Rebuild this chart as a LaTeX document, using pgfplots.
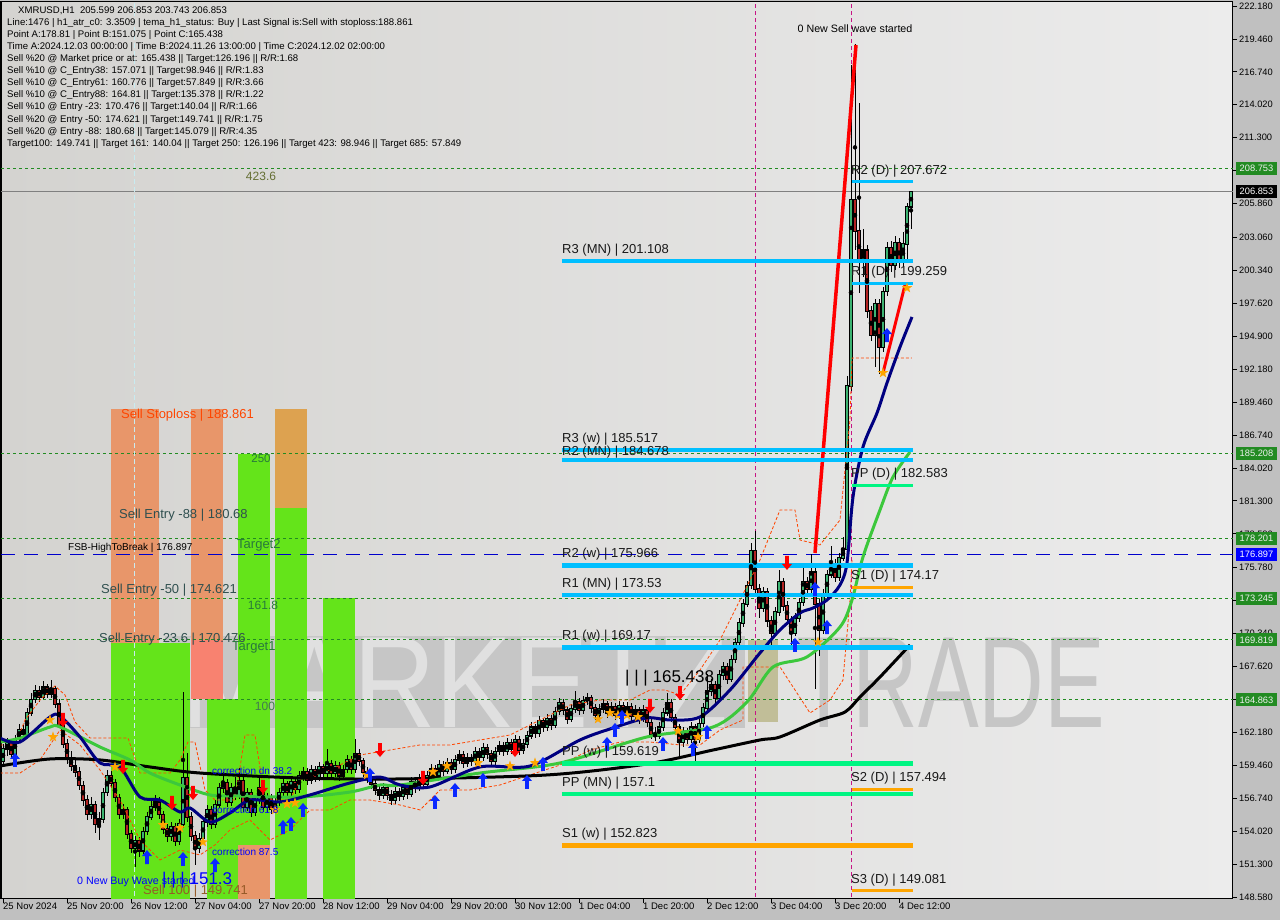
\documentclass[border=0pt]{standalone}
\usepackage{pgfplots}
\pgfplotsset{compat=1.18}
\usepackage{pgfplotstable}
\usepackage{fontspec}
\setmainfont{Liberation Sans}
\newcommand{\fs}[1]{\fontsize{#1}{#1}\selectfont}
\definecolor{outerbg}{RGB}{192,192,192}
\definecolor{bgl}{RGB}{212,211,208}
\definecolor{bgr}{RGB}{236,236,236}
\definecolor{bull}{RGB}{60,179,113}
\definecolor{bear}{RGB}{178,34,34}
\definecolor{manavy}{RGB}{0,0,128}
\definecolor{magreen}{RGB}{60,200,60}
\definecolor{pcyan}{RGB}{0,191,255}
\definecolor{pgreen}{RGB}{0,245,130}
\definecolor{porange}{RGB}{255,165,0}
\definecolor{lvl}{RGB}{34,139,34}
\definecolor{salmonz}{RGB}{232,150,106}
\definecolor{pinkz}{RGB}{248,130,112}
\definecolor{greenz}{RGB}{100,228,26}
\definecolor{orangez}{RGB}{221,162,80}
\definecolor{khakiz}{RGB}{188,184,140}
\definecolor{band}{RGB}{198,198,198}
\definecolor{wmlight}{RGB}{224,224,224}
\definecolor{wmdark}{RGB}{198,198,198}
\definecolor{envc}{RGB}{255,69,0}
\definecolor{magline}{RGB}{199,21,133}
\definecolor{txtgreen}{RGB}{40,120,60}
\definecolor{slate}{RGB}{47,79,79}
\definecolor{brownt}{RGB}{150,90,40}
\definecolor{olivet}{RGB}{100,110,50}
\definecolor{pivtxt}{RGB}{25,25,25}
\definecolor{arrblue}{RGB}{10,40,255}
\definecolor{lightvl}{RGB}{200,235,240}

\pgfdeclareplotmark{uparr}{%
  \pgfpathmoveto{\pgfqpoint{0pt}{7pt}}%
  \pgfpathlineto{\pgfqpoint{5pt}{1pt}}%
  \pgfpathlineto{\pgfqpoint{1.8pt}{1pt}}%
  \pgfpathlineto{\pgfqpoint{1.8pt}{-7pt}}%
  \pgfpathlineto{\pgfqpoint{-1.8pt}{-7pt}}%
  \pgfpathlineto{\pgfqpoint{-1.8pt}{1pt}}%
  \pgfpathlineto{\pgfqpoint{-5pt}{1pt}}%
  \pgfpathclose\pgfusepathqfill}
\pgfdeclareplotmark{dnarr}{%
  \pgfpathmoveto{\pgfqpoint{0pt}{-7pt}}%
  \pgfpathlineto{\pgfqpoint{5pt}{-1pt}}%
  \pgfpathlineto{\pgfqpoint{1.8pt}{-1pt}}%
  \pgfpathlineto{\pgfqpoint{1.8pt}{7pt}}%
  \pgfpathlineto{\pgfqpoint{-1.8pt}{7pt}}%
  \pgfpathlineto{\pgfqpoint{-1.8pt}{-1pt}}%
  \pgfpathlineto{\pgfqpoint{-5pt}{-1pt}}%
  \pgfpathclose\pgfusepathqfill}
\pgfdeclareplotmark{fstar}{%
  \pgfpathmoveto{\pgfqpoint{0pt}{5.5pt}}%
  \pgfpathlineto{\pgfqpoint{-1.29pt}{1.78pt}}%
  \pgfpathlineto{\pgfqpoint{-5.23pt}{1.70pt}}%
  \pgfpathlineto{\pgfqpoint{-2.09pt}{-0.68pt}}%
  \pgfpathlineto{\pgfqpoint{-3.23pt}{-4.45pt}}%
  \pgfpathlineto{\pgfqpoint{0pt}{-2.2pt}}%
  \pgfpathlineto{\pgfqpoint{3.23pt}{-4.45pt}}%
  \pgfpathlineto{\pgfqpoint{2.09pt}{-0.68pt}}%
  \pgfpathlineto{\pgfqpoint{5.23pt}{1.70pt}}%
  \pgfpathlineto{\pgfqpoint{1.29pt}{1.78pt}}%
  \pgfpathclose\pgfusepathqfill}

\pgfplotstableread{
x o h l c
0 159.8 161.2 159.3 160.8
1 160.8 161.7 160.2 161.3
2 161.3 161.6 160.0 160.4
3 160.4 162.0 160.1 161.6
4 161.6 162.9 161.3 162.4
5 162.4 162.8 161.6 162.0
6 162.0 164.2 161.8 163.8
7 163.8 165.4 163.5 164.9
8 164.9 166.1 164.6 165.6
9 165.6 166.0 164.7 165.1
10 165.1 166.4 164.9 165.9
11 165.9 166.2 165.0 165.3
12 165.3 166.5 165.0 165.8
13 165.8 166.0 164.2 164.5
14 164.5 164.9 162.5 162.8
15 162.8 163.5 160.9 161.2
16 161.2 161.6 159.6 160.0
17 160.0 160.6 159.0 159.4
18 159.4 160.0 158.5 158.9
19 158.9 159.3 157.4 157.8
20 157.8 158.2 156.1 156.6
21 156.6 157.0 154.9 155.4
22 155.4 156.8 155.0 156.2
23 156.2 156.5 153.9 154.6
24 154.6 155.6 153.3 155.0
25 155.0 157.6 154.7 157.2
26 157.2 159.1 156.9 158.6
27 158.6 159.0 157.6 158.0
28 158.0 158.3 156.4 156.8
29 156.8 157.1 155.0 155.4
30 155.4 156.3 155.0 155.8
31 155.8 156.0 153.4 153.8
32 153.8 154.1 152.2 152.6
33 152.6 153.6 151.075 153.2
34 153.2 153.5 151.9 152.4
35 152.4 154.4 152.1 154.0
36 154.0 155.6 153.7 155.2
37 155.2 156.5 154.9 156.0
38 156.0 157.0 155.7 156.4
39 156.4 156.8 155.0 155.4
40 155.4 155.7 153.8 154.2
41 154.2 154.6 153.1 153.6
42 153.6 154.8 153.2 154.4
43 154.4 154.7 152.8 153.2
44 153.2 155.0 152.9 154.6
45 154.6 165.5 154.3 158.4
46 158.4 160.5 154.8 155.2
47 155.2 155.6 153.2 153.6
48 153.6 154.0 151.2 152.6
49 152.6 153.9 152.2 153.4
50 153.4 155.2 153.1 154.8
51 154.8 156.2 154.4 155.8
52 155.8 156.1 154.2 154.6
53 154.6 156.6 154.3 156.2
54 156.2 158.0 155.9 157.6
55 157.6 158.9 157.2 158.0
56 158.0 158.3 156.0 156.4
57 156.4 158.0 156.1 157.6
58 157.6 158.5 156.6 157.0
59 157.0 159.2 156.7 158.2
60 158.2 158.6 155.6 156.0
61 156.0 157.6 155.7 157.2
62 157.2 157.5 155.2 155.6
63 155.6 157.0 155.3 156.6
64 156.6 158.4 156.3 157.6
65 157.6 157.9 155.6 156.0
66 156.0 157.2 155.6 156.8
67 156.8 157.1 155.4 155.8
68 155.8 156.8 155.5 156.4
69 156.4 157.6 156.1 157.2
70 157.2 158.3 156.9 157.9
71 157.9 158.2 156.8 157.2
72 157.2 158.5 156.9 158.1
73 158.1 158.4 157.1 157.5
74 157.5 159.0 157.2 158.6
75 158.6 159.3 158.2 158.9
76 158.9 159.2 157.8 158.2
77 158.2 159.5 157.9 159.1
78 159.1 159.4 158.1 158.5
79 158.5 159.7 158.2 159.3
80 159.3 159.6 158.4 158.8
81 158.8 160.8 158.5 159.6
82 159.6 159.9 158.4 158.8
83 158.8 159.8 158.5 159.4
84 159.4 159.7 158.2 158.6
85 158.6 159.5 158.3 159.1
86 159.1 160.3 158.8 159.9
87 159.9 160.2 158.7 159.1
88 159.1 161.6 158.8 160.4
89 160.4 160.8 159.4 159.8
90 159.8 160.1 158.5 158.9
91 158.9 159.3 158.0 158.4
92 158.4 158.8 157.5 157.9
93 157.9 158.3 157.0 157.4
94 157.4 157.8 156.6 157.0
95 157.0 158.0 156.7 157.6
96 157.6 157.9 156.6 157.0
97 157.0 157.4 156.2 156.6
98 156.6 157.7 156.3 157.3
99 157.3 157.6 156.5 156.9
100 156.9 158.0 156.6 157.6
101 157.6 157.9 156.7 157.1
102 157.1 158.5 156.8 158.1
103 158.1 158.4 157.2 157.6
104 157.6 158.7 157.3 158.3
105 158.3 158.6 157.5 157.9
106 157.9 159.0 157.6 158.6
107 158.6 159.6 158.3 159.2
108 159.2 159.5 158.2 158.6
109 158.6 159.9 158.3 159.5
110 159.5 159.8 158.6 159.0
111 159.0 160.1 158.7 159.7
112 159.7 160.0 158.7 159.1
113 159.1 160.3 158.8 159.9
114 159.9 160.7 159.6 160.3
115 160.3 160.6 159.2 159.6
116 159.6 160.5 159.3 160.1
117 160.1 160.4 159.4 159.8
118 159.8 161.0 159.5 160.6
119 160.6 160.9 159.7 160.1
120 160.1 161.3 159.8 160.9
121 160.9 161.2 160.0 160.4
122 160.4 160.7 159.4 159.8
123 159.8 161.0 159.5 160.6
124 160.6 161.5 160.3 161.1
125 161.1 161.4 160.2 160.6
126 160.6 161.7 160.3 161.3
127 161.3 161.6 160.4 160.8
128 160.8 162.0 160.5 161.6
129 161.6 161.9 160.3 160.7
130 160.7 161.6 160.4 161.2
131 161.2 162.3 160.9 161.9
132 161.9 163.0 161.6 162.6
133 162.6 162.9 161.7 162.1
134 162.1 163.5 161.8 163.1
135 163.1 163.4 162.2 162.6
136 162.6 163.7 162.3 163.3
137 163.3 163.6 162.4 162.8
138 162.8 164.3 162.5 163.9
139 163.9 165.0 163.6 164.6
140 164.6 164.9 163.6 164.0
141 164.0 164.3 162.9 163.3
142 163.3 164.5 163.0 164.1
143 164.1 165.6 163.8 164.7
144 164.7 165.0 163.6 164.0
145 164.0 165.2 163.7 164.8
146 164.8 165.4 164.4 165.0
147 165.0 165.3 163.8 164.2
148 164.2 164.5 163.2 163.6
149 163.6 164.5 163.3 164.1
150 164.1 164.9 163.8 164.5
151 164.5 164.8 163.4 163.8
152 163.8 164.7 163.5 164.3
153 164.3 164.6 163.2 163.6
154 163.6 164.8 163.3 164.4
155 164.4 164.7 163.4 163.8
156 163.8 164.7 163.5 164.3
157 164.3 164.6 163.1 163.5
158 163.5 164.4 163.2 164.0
159 164.0 164.3 162.9 163.3
160 163.3 164.4 163.0 164.0
161 164.0 164.3 162.6 163.0
162 163.0 163.3 161.6 162.0
163 162.0 162.6 161.5 161.9
164 161.9 163.0 161.6 162.6
165 162.6 164.2 162.3 163.8
166 163.8 165.438 163.5 164.6
167 164.6 164.9 163.0 163.4
168 163.4 163.7 162.2 162.6
169 162.6 162.9 160.0 161.4
170 161.4 162.6 161.0 162.2
171 162.2 162.5 161.2 161.6
172 161.6 163.0 161.3 162.6
173 162.6 162.9 159.8 161.6
174 161.6 163.3 161.3 162.9
175 162.9 164.6 162.6 164.2
176 164.2 167.0 163.9 165.6
177 165.6 166.6 165.2 166.1
178 166.1 166.4 164.6 165.0
179 165.0 167.3 164.7 166.9
180 166.9 168.0 166.5 167.6
181 167.6 167.9 166.2 166.6
182 166.6 168.6 166.3 168.2
183 168.2 170.0 167.9 169.6
184 169.6 171.6 169.3 171.2
185 171.2 173.2 170.9 172.8
186 172.8 174.7 172.5 174.3
187 174.3 177.8 174.0 177.2
188 177.2 178.81 173.6 174.0
189 174.0 174.4 171.6 172.4
190 172.4 174.2 172.1 173.8
191 173.8 174.1 170.9 171.4
192 171.4 171.8 169.4 170.4
193 170.4 172.5 170.1 172.1
194 172.1 175.6 171.8 174.6
195 174.6 174.9 172.2 172.6
196 172.6 173.0 171.1 171.5
197 171.5 171.8 169.0 170.4
198 170.4 172.0 170.1 171.6
199 171.6 173.3 171.3 172.9
200 172.9 176.2 172.6 174.6
201 174.6 175.0 173.6 174.0
202 174.0 176.9 173.7 175.4
203 175.4 175.8 165.8 172.8
204 172.8 173.2 168.5 170.6
205 170.6 174.0 170.3 173.6
206 173.6 175.6 173.3 175.2
207 175.2 177.6 174.9 176.1
208 176.1 176.5 174.6 175.0
209 175.0 177.0 174.7 176.6
210 176.6 178.3 176.3 177.3
211 177.3 191.6 176.9 190.8
212 190.8 217.3 190.4 206.2
213 206.2 219.0 202.0 203.6
214 203.6 214.2 198.5 201.0
215 201.0 203.8 199.8 202.0
216 202.0 202.4 196.4 197.0
217 197.0 197.4 194.5 195.0
218 195.0 198.0 192.4 197.6
219 197.6 198.0 191.8 194.0
220 194.0 199.0 193.6 198.6
221 198.6 202.7 198.2 202.2
222 202.2 202.8 200.2 200.8
223 200.8 203.2 200.4 202.6
224 202.6 203.0 200.5 201.0
225 201.0 203.5 200.6 202.5
226 202.5 205.9 201.2 205.599
227 205.599 206.853 203.743 206.853
}\candles

\begin{document}
\begin{tikzpicture}
\fill[outerbg] (0pt,0pt) rectangle (1280pt,920pt);
\begin{axis}[
  at={(1pt,21pt)}, anchor=south west,
  scale only axis, width=1232pt, height=897pt,
  xmin=-0.5, xmax=307.5, ymin=148.414, ymax=222.51,
  axis background/.style={left color=bgl, right color=bgr},
  axis line style={black, line width=1pt},
  ytick pos=right, xtick pos=bottom,
  tick align=outside, major tick length=4pt,
  tick style={black, line width=0.8pt},
  ytick={222.18,219.46,216.74,214.02,211.30,208.58,205.86,203.06,200.34,197.62,194.90,192.18,189.46,186.74,184.02,181.30,178.58,175.78,173.06,170.34,167.62,164.90,162.18,159.46,156.74,154.02,151.30,148.58},
  yticklabels={222.180,219.460,216.740,214.020,211.300,208.580,205.860,203.060,200.340,197.620,194.900,192.180,189.460,186.740,184.020,181.300,178.580,175.780,173.060,170.340,167.620,164.900,162.180,159.460,156.740,154.020,151.300,148.580},
  xtick={0,16,32,48,64,80,96,112,128,144,160,176,192,208,224},
  xticklabels={25 Nov 2024,25 Nov 20:00,26 Nov 12:00,27 Nov 04:00,27 Nov 20:00,28 Nov 12:00,29 Nov 04:00,29 Nov 20:00,30 Nov 12:00,1 Dec 04:00,1 Dec 20:00,2 Dec 12:00,3 Dec 04:00,3 Dec 20:00,4 Dec 12:00},
  yticklabel style={font=\fs{9.3}, anchor=west, inner sep=1pt, xshift=1pt},
  xticklabel style={font=\fs{9.5}, anchor=north west, inner sep=1pt, xshift=-1pt, yshift=1pt},
]
% watermark
\fill[band] (axis cs:40.5,162.54) rectangle (axis cs:185.5,170.14);
\node[font=\fs{130}, text=wmlight, xscale=0.88, inner sep=0] at (axis cs:113,166.3) {MARKETZ};
\node[font=\fs{130}, text=wmdark, xscale=0.7, inner sep=0] at (axis cs:237,166.3) {TRADE};
% zones
\addplot[fill=salmonz, draw=none] coordinates {(27,169.6) (39,169.6) (39,188.861) (27,188.861)} --cycle;
\addplot[fill=greenz, draw=none] coordinates {(27,148) (46.75,148) (46.75,169.6) (27,169.6)} --cycle;
\addplot[fill=salmonz, draw=none] coordinates {(47,169.819) (55,169.819) (55,188.861) (47,188.861)} --cycle;
\addplot[fill=pinkz, draw=none] coordinates {(47,164.9) (55,164.9) (55,169.819) (47,169.819)} --cycle;
\addplot[fill=greenz, draw=none] coordinates {(51,148) (58.75,148) (58.75,164.9) (51,164.9)} --cycle;
\addplot[fill=greenz, draw=none] coordinates {(58.75,152.9) (66.75,152.9) (66.75,185.208) (58.75,185.208)} --cycle;
\addplot[fill=salmonz, draw=none] coordinates {(58.75,148) (66.75,148) (66.75,152.9) (58.75,152.9)} --cycle;
\addplot[fill=orangez, draw=none] coordinates {(68,180.68) (76,180.68) (76,188.861) (68,188.861)} --cycle;
\addplot[fill=greenz, draw=none] coordinates {(68,148) (76,148) (76,180.68) (68,180.68)} --cycle;
\addplot[fill=greenz, draw=none] coordinates {(80,148) (88,148) (88,173.245) (80,173.245)} --cycle;
\addplot[fill=khakiz, fill opacity=0.85, draw=none] coordinates {(186.25,163.04) (193.75,163.04) (193.75,169.81) (186.25,169.81)} --cycle;
% dashed levels
\addplot[lvl, line width=0.8pt, dash pattern=on 3pt off 3pt] coordinates {(-0.5,208.753) (307.5,208.753)};
\addplot[lvl, line width=0.8pt, dash pattern=on 3pt off 3pt] coordinates {(-0.5,185.208) (307.5,185.208)};
\addplot[lvl, line width=0.8pt, dash pattern=on 3pt off 3pt] coordinates {(-0.5,178.201) (307.5,178.201)};
\addplot[lvl, line width=0.8pt, dash pattern=on 3pt off 3pt] coordinates {(-0.5,173.245) (307.5,173.245)};
\addplot[lvl, line width=0.8pt, dash pattern=on 3pt off 3pt] coordinates {(-0.5,169.819) (307.5,169.819)};
\addplot[lvl, line width=0.8pt, dash pattern=on 3pt off 3pt] coordinates {(-0.5,164.863) (307.5,164.863)};
\addplot[gray, line width=1.1pt] coordinates {(-0.5,206.853) (307.5,206.853)};
\addplot[blue!80!black, line width=1.3pt, dash pattern=on 14pt off 9pt] coordinates {(-0.5,176.897) (307.5,176.897)};
% verticals
\addplot[magline, line width=0.8pt, dash pattern=on 4pt off 3pt] coordinates {(188,148) (188,223)};
\addplot[magline, line width=0.8pt, dash pattern=on 4pt off 3pt] coordinates {(212,148) (212,223)};
\addplot[lightvl, line width=1pt, dash pattern=on 5pt off 3pt] coordinates {(33,148) (33,223)};
% candles: wicks
\addplot[only marks, mark=none, error bars/.cd, y dir=both, y explicit, error mark=none,
  error bar style={line width=0.9pt, black}]
  table[x=x, y expr={(\thisrow{h}+\thisrow{l})/2}, y error expr={(\thisrow{h}-\thisrow{l})/2}] {\candles};
\addplot[only marks, mark=none, error bars/.cd, y dir=both, y explicit, error mark=none,
  error bar style={line width=3.2pt, black}]
  table[x=x, y expr={(\thisrow{o}+\thisrow{c})/2}, y error expr={abs(\thisrow{c}-\thisrow{o})/2+0.07}] {\candles};
\addplot[only marks, mark=none, restrict expr to domain={\thisrow{c}-\thisrow{o}}{0:1000},
  error bars/.cd, y dir=both, y explicit, error mark=none, error bar style={line width=1.6pt, bull}]
  table[x=x, y expr={(\thisrow{o}+\thisrow{c})/2}, y error expr={max(abs(\thisrow{c}-\thisrow{o})/2-0.02,0.02)}] {\candles};
\addplot[only marks, mark=none, restrict expr to domain={\thisrow{c}-\thisrow{o}}{-1000:-0.0001},
  error bars/.cd, y dir=both, y explicit, error mark=none, error bar style={line width=1.6pt, bear}]
  table[x=x, y expr={(\thisrow{o}+\thisrow{c})/2}, y error expr={max(abs(\thisrow{c}-\thisrow{o})/2-0.02,0.02)}] {\candles};
% envelope dashed
\addplot[envc, line width=0.8pt, dash pattern=on 3pt off 2pt] coordinates {(-0.75,161.14) (3,161.14) (5.5,163.20) (9.25,164.85) (13,166.01) (15.5,165.27) (18,163.04) (21.75,161.71) (31.25,161.71) (34.25,158.82) (41.75,158.82) (44.25,159.90) (46.25,161.38) (48,161.38) (50.5,157.42) (53,156.59) (58,156.59) (60.5,161.96) (63,161.96) (65.5,156.59) (71.75,156.59) (74.25,158.25) (81.75,159.07) (89.25,160.31) (96.75,160.72) (104.25,161.14) (111.75,161.14) (119.25,161.55) (126.75,161.96) (134.25,163.20) (141.75,164.44) (149.25,164.85) (156.75,164.85) (161.75,165.68) (165.5,165.68) (169.25,165.27) (174.25,167.33) (179.25,169.81) (184.25,173.11) (189.25,176.42) (194.25,180.55) (198,180.55) (199.25,178.07) (204.25,177.66) (209.25,179.72) (211.75,187.98) (212.25,193.10) (227.25,193.10)};
\addplot[envc, line width=0.8pt, dash pattern=on 3pt off 2pt] coordinates {(-0.75,158.82) (4.25,158.82) (9.25,159.90) (14.25,162.37) (19.25,161.14) (24.25,159.07) (29.25,156.59) (34.25,153.29) (39.25,151.64) (44.25,152.46) (49.25,152.05) (53,152.88) (56.75,154.12) (61.75,154.94) (66.75,153.29) (71.75,154.12) (76.75,155.77) (81.75,155.77) (86.75,156.59) (91.75,156.59) (99.25,156.18) (104.25,155.77) (109.25,157.42) (116.75,157.42) (124.25,157.83) (131.75,158.66) (139.25,159.48) (146.75,160.72) (154.25,161.38) (161.75,161.38) (169.25,161.14) (174.25,161.14) (179.25,162.37) (185,163.20) (185,167.58) (194.25,167.58) (198,165.68) (201.75,163.78) (206.75,164.85) (210,166.50) (211.75,173.11) (212.25,176.42)};
% moving averages
\addplot[black, line width=3pt, smooth] coordinates {(-0.75,159.40) (11.75,159.98) (24.25,159.90) (36.75,159.32) (49.25,158.82) (74.25,158.41) (99.25,158.33) (136,158.66) (161,159.57) (177.5,160.72) (189.25,161.55) (194.25,161.80) (204.25,163.20) (210.5,163.86) (214.25,165.10) (219.25,166.75) (226.75,169.40)};
\addplot[magreen, line width=3pt, smooth] coordinates {(-0.75,161.38) (4.25,161.71) (11.75,162.62) (14.25,162.62) (24.25,160.97) (31.75,159.90) (36.75,158.82) (44.25,157.83) (51.75,157.01) (59.25,156.92) (74.25,156.84) (86.75,157.25) (94.25,157.83) (99.25,157.83) (119.25,158.82) (139.25,159.65) (161,161.80) (177.5,162.62) (186,164.69) (192.5,167.58) (201,168.41) (209.25,170.88) (212.25,173.11) (215,176.67) (219.25,180.55) (222.5,183.27) (226.75,185.34)};
\addplot[manavy, line width=3pt, smooth] coordinates {(-0.75,161.71) (4.25,161.38) (11.75,163.45) (14.25,163.53) (19.25,161.80) (24.25,159.65) (29.25,159.32) (34.25,156.84) (39.25,156.59) (44.25,155.60) (46.75,155.93) (51.75,154.77) (56.75,155.52) (61.75,156.59) (69.25,156.43) (76.75,157.01) (86.75,158.00) (94.25,158.49) (99.25,157.83) (106.75,157.67) (119.25,159.32) (131.75,159.40) (144.25,161.55) (152.5,162.54) (161,163.37) (166.75,163.20) (174.25,163.45) (181.75,165.68) (189.25,168.74) (194.25,170.64) (199.25,172.04) (202.5,172.45) (206,173.11) (209.25,174.35) (211,176.17) (212.5,181.62) (215,185.75) (218.5,188.56) (221,191.04) (224.25,194.01) (227.25,196.49)};
% red wave lines
\addplot[red, line width=3.5pt] coordinates {(203,176.99) (213.25,218.96)};
\addplot[red, line width=3pt] coordinates {(220,191.87) (225.5,199.13)};
% pivots weekly/monthly
\addplot[pcyan, line width=4.5pt] coordinates {(139.75,201.108) (227.5,201.108)};
\addplot[pcyan, line width=4.5pt] coordinates {(139.75,185.517) (227.5,185.517)};
\addplot[pcyan, line width=4.5pt] coordinates {(139.75,184.678) (227.5,184.678)};
\addplot[pcyan, line width=4.5pt] coordinates {(139.75,175.966) (227.5,175.966)};
\addplot[pcyan, line width=4.5pt] coordinates {(139.75,173.53) (227.5,173.53)};
\addplot[pcyan, line width=4.5pt] coordinates {(139.75,169.17) (227.5,169.17)};
\addplot[pgreen, line width=4.5pt] coordinates {(139.75,159.619) (227.5,159.619)};
\addplot[pgreen, line width=4.5pt] coordinates {(139.75,157.1) (227.5,157.1)};
\addplot[porange, line width=4.5pt] coordinates {(139.75,152.823) (227.5,152.823)};
% daily pivots
\addplot[pcyan, line width=3pt] coordinates {(212.25,207.672) (227.5,207.672)};
\addplot[pcyan, line width=3pt] coordinates {(212.25,199.259) (227.5,199.259)};
\addplot[pgreen, line width=3pt] coordinates {(212.25,182.583) (227.5,182.583)};
\addplot[porange, line width=3pt] coordinates {(212.25,174.17) (227.5,174.17)};
\addplot[porange, line width=3pt] coordinates {(212.25,157.494) (227.5,157.494)};
\addplot[porange, line width=3pt] coordinates {(212.25,149.081) (227.5,149.081)};
% signals
\addplot[only marks, mark=fstar, color=porange] coordinates {(11.75,163.20) (12.5,161.80) (28,159.32) (40,154.53) (44.25,154.28) (50,153.12) (68,155.77) (71,156.26) (73,156.35) (91,158.66) (107.5,158.91) (111,159.40) (118.75,159.65) (126.75,159.40) (133,159.65) (148.75,163.28) (151.75,163.78) (153.75,163.61) (156,163.61) (158.75,163.45) (168.75,162.29) (173.75,161.80) (203.75,169.64) (220,191.87) (226,198.89)};
\addplot[only marks, mark=uparr, color=arrblue] coordinates {(3,159.90) (36,151.88) (45,151.72) (53,151.22) (70,154.36) (72,154.61) (75,155.77) (91.75,158.66) (108,156.43) (113,157.42) (120,158.25) (131,158.08) (135,159.57) (151,161.22) (153,162.38) (154.75,163.45) (165,161.22) (172.5,160.81) (176,162.21) (198,169.40) (203,174.02) (206,170.88) (221,195.00)};
\addplot[only marks, mark=dnarr, color=red] coordinates {(15,163.20) (30,159.32) (42.25,156.35) (47.5,157.17) (65,157.67) (94.25,160.72) (105,158.41) (128,160.72) (161.75,164.36) (169.25,165.43) (196,176.17)};
\end{axis}

\begin{scope}[x=1pt,y=-1pt,yshift=920pt]
% info block
\node[anchor=west, font=\fs{9.6}, inner sep=0] at (18,10.5) {XMRUSD,H1\ \ 205.599 206.853 203.743 206.853};
\node[anchor=west, font=\fs{9.6}, inner sep=0] at (7,22.8) {Line:1476 | h1\_atr\_c0: 3.3509 | tema\_h1\_status: Buy | Last Signal is:Sell with stoploss:188.861};
\node[anchor=west, font=\fs{9.6}, inner sep=0] at (7,34.9) {Point A:178.81 | Point B:151.075 | Point C:165.438};
\node[anchor=west, font=\fs{9.6}, inner sep=0] at (7,47.0) {Time A:2024.12.03 00:00:00 | Time B:2024.11.26 13:00:00 | Time C:2024.12.02 02:00:00};
\node[anchor=west, font=\fs{9.6}, inner sep=0] at (7,59.1) {Sell \%20 @ Market price or at: 165.438 || Target:126.196 || R/R:1.68};
\node[anchor=west, font=\fs{9.6}, inner sep=0] at (7,71.2) {Sell \%10 @ C\_Entry38: 157.071 || Target:98.946 || R/R:1.83};
\node[anchor=west, font=\fs{9.6}, inner sep=0] at (7,83.3) {Sell \%10 @ C\_Entry61: 160.776 || Target:57.849 || R/R:3.66};
\node[anchor=west, font=\fs{9.6}, inner sep=0] at (7,95.4) {Sell \%10 @ C\_Entry88: 164.81 || Target:135.378 || R/R:1.22};
\node[anchor=west, font=\fs{9.6}, inner sep=0] at (7,107.5) {Sell \%10 @ Entry -23: 170.476 || Target:140.04 || R/R:1.66};
\node[anchor=west, font=\fs{9.6}, inner sep=0] at (7,119.6) {Sell \%20 @ Entry -50: 174.621 || Target:149.741 || R/R:1.75};
\node[anchor=west, font=\fs{9.6}, inner sep=0] at (7,131.7) {Sell \%20 @ Entry -88: 180.68 || Target:145.079 || R/R:4.35};
\node[anchor=west, font=\fs{9.6}, inner sep=0] at (7,143.8) {Target100: 149.741 || Target 161: 140.04 || Target 250: 126.196 || Target 423: 98.946 || Target 685: 57.849};
% pivot labels
\node[anchor=west, font=\fs{13}, text=pivtxt, inner sep=0] at (562,250) {R3 (MN) | 201.108};
\node[anchor=west, font=\fs{13}, text=pivtxt, inner sep=0] at (562,439) {R3 (w) | 185.517};
\node[anchor=west, font=\fs{13}, text=pivtxt, inner sep=0] at (562,452) {R2 (MN) | 184.678};
\node[anchor=west, font=\fs{13}, text=pivtxt, inner sep=0] at (562,554) {R2 (w) | 175.966};
\node[anchor=west, font=\fs{13}, text=pivtxt, inner sep=0] at (562,584) {R1 (MN) | 173.53};
\node[anchor=west, font=\fs{13}, text=pivtxt, inner sep=0] at (562,636) {R1 (w) | 169.17};
\node[anchor=west, font=\fs{13}, text=pivtxt, inner sep=0] at (562,752) {PP (w) | 159.619};
\node[anchor=west, font=\fs{13}, text=pivtxt, inner sep=0] at (562,783) {PP (MN) | 157.1};
\node[anchor=west, font=\fs{13}, text=pivtxt, inner sep=0] at (562,834) {S1 (w) | 152.823};
\node[anchor=west, font=\fs{13}, text=pivtxt, inner sep=0] at (851,171) {R2 (D) | 207.672};
\node[anchor=west, font=\fs{13}, text=pivtxt, inner sep=0] at (851,272) {R1 (D) | 199.259};
\node[anchor=west, font=\fs{13}, text=pivtxt, inner sep=0] at (851,474) {PP (D) | 182.583};
\node[anchor=west, font=\fs{13}, text=pivtxt, inner sep=0] at (851,576) {S1 (D) | 174.17};
\node[anchor=west, font=\fs{13}, text=pivtxt, inner sep=0] at (851,778) {S2 (D) | 157.494};
\node[anchor=west, font=\fs{13}, text=pivtxt, inner sep=0] at (851,880) {S3 (D) | 149.081};
% other annotations
\node[font=\fs{10.7}, inner sep=0] at (855,29) {0 New Sell wave started};
\node[font=\fs{12}, text=olivet, inner sep=0] at (261,176) {423.6};
\node[anchor=west, font=\fs{13}, text=envc, inner sep=0] at (121,415) {Sell Stoploss | 188.861};
\node[font=\fs{11.5}, text=txtgreen, inner sep=0] at (261,459) {250};
\node[anchor=west, font=\fs{13}, text=slate, inner sep=0] at (119,515) {Sell Entry -88 | 180.68};
\node[anchor=west, font=\fs{10}, inner sep=0] at (68,548) {FSB-HighToBreak | 176.897};
\node[anchor=west, font=\fs{13}, text=txtgreen, inner sep=0] at (237,545) {Target2};
\node[anchor=west, font=\fs{13}, text=slate, inner sep=0] at (101,590) {Sell Entry -50 | 174.621};
\node[font=\fs{12}, text=txtgreen, inner sep=0] at (263,605) {161.8};
\node[anchor=west, font=\fs{13}, text=slate, inner sep=0] at (99,639) {Sell Entry -23.6 | 170.476};
\node[anchor=west, font=\fs{13}, text=txtgreen, inner sep=0] at (232,647) {Target1};
\node[font=\fs{12}, text=txtgreen!70!gray, inner sep=0] at (265,706) {100};
\node[anchor=west, font=\fs{10}, text=blue, inner sep=0] at (212,771) {correction dn 38.2};
\node[anchor=west, font=\fs{10}, text=blue, inner sep=0] at (212,810) {correction 61.8};
\node[anchor=west, font=\fs{10}, text=blue, inner sep=0] at (212,852) {correction 87.5};
\node[anchor=west, font=\fs{10.7}, text=blue, inner sep=0] at (77,882) {0 New Buy Wave started};
\node[anchor=west, font=\fs{17}, text=blue, inner sep=0] at (162,880) {| | | 151.3};
\node[anchor=west, font=\fs{13}, text=brownt, inner sep=0] at (143,891) {Sell 100 | 149.741};
\node[anchor=west, font=\fs{17}, inner sep=0] at (625,678) {| | | 165.438};
% right axis value boxes
\fill[lvl] (1236,162) rectangle (1277,175);
\node[font=\fs{9.3}, text=white!88!gray, inner sep=0] at (1256.5,168.5) {208.753};
\fill[black] (1236,185) rectangle (1277,198);
\node[font=\fs{9.3}, text=white, inner sep=0] at (1256.5,191.5) {206.853};
\fill[lvl] (1236,447) rectangle (1277,460);
\node[font=\fs{9.3}, text=white!88!gray, inner sep=0] at (1256.5,453.6) {185.208};
\fill[lvl] (1236,532) rectangle (1277,545);
\node[font=\fs{9.3}, text=white!88!gray, inner sep=0] at (1256.5,538.4) {178.201};
\fill[blue] (1236,548) rectangle (1277,561);
\node[font=\fs{9.3}, text=white, inner sep=0] at (1256.5,554.2) {176.897};
\fill[lvl] (1236,592) rectangle (1277,605);
\node[font=\fs{9.3}, text=white!88!gray, inner sep=0] at (1256.5,598.4) {173.245};
\fill[lvl] (1236,633.5) rectangle (1277,646.5);
\node[font=\fs{9.3}, text=white!88!gray, inner sep=0] at (1256.5,639.9) {169.819};
\fill[lvl] (1236,693.5) rectangle (1277,706.5);
\node[font=\fs{9.3}, text=white!88!gray, inner sep=0] at (1256.5,699.9) {164.863};
\end{scope}
\pgfresetboundingbox
\path[use as bounding box] (0pt,0pt) rectangle (1280pt,920pt);
\end{tikzpicture}
\end{document}
